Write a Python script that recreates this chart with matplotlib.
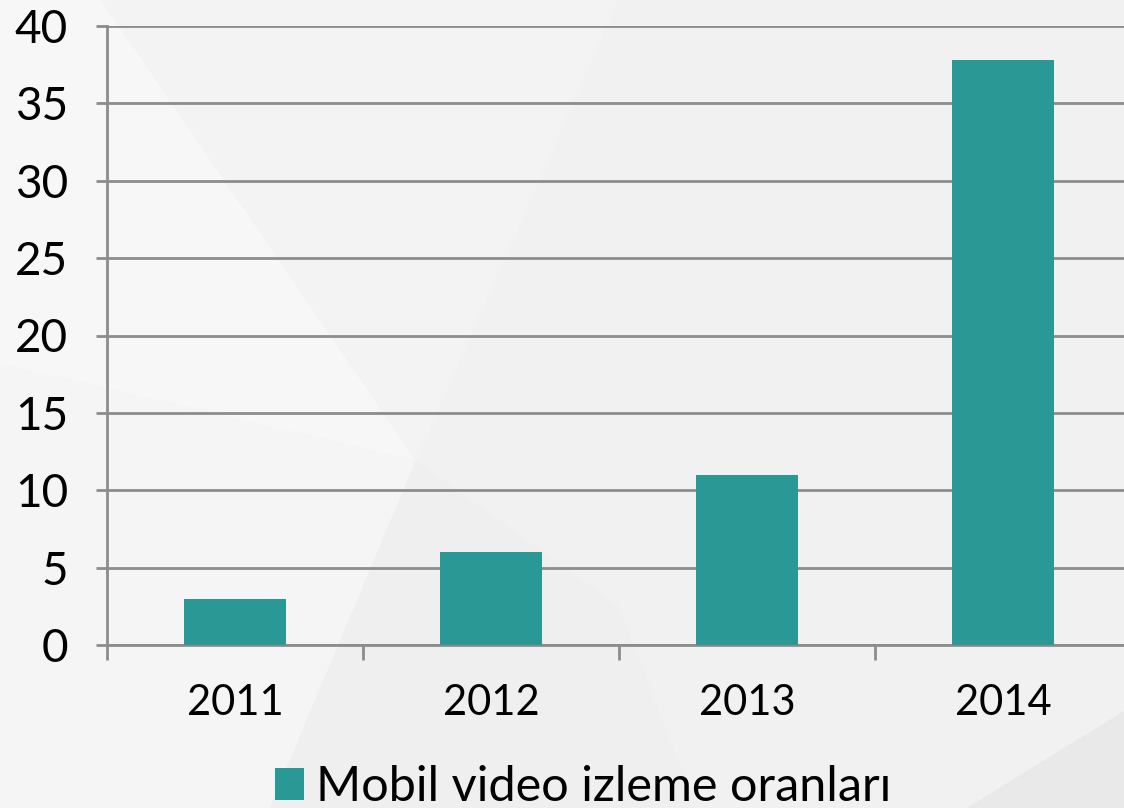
import matplotlib
matplotlib.use("Agg")
import matplotlib.pyplot as plt
from matplotlib.patches import Polygon, Patch

# data
years = ["2011", "2012", "2013", "2014"]
values = [3, 6, 11, 37.8]
series_name = "Mobil video izleme oranları"
y_ticks = [0, 5, 10, 15, 20, 25, 30, 35, 40]

teal = "#2a9894"
grid_gray = "#8c8c8c"

plt.rcParams["font.family"] = ["Lato", "DejaVu Sans"]

fig = plt.figure(figsize=(11.24, 8.08), dpi=100)
fig.patch.set_facecolor("#f1f1f1")

# faint background facets (figure coords)
facets = [
    ([(0.0, 1.0), (0.09, 1.0), (0.37, 0.43), (0.0, 0.55)], "#f7f7f7"),
    ([(0.37, 0.43), (0.24, 0.0), (0.0, 0.0), (0.0, 0.55)], "#f5f5f5"),
    ([(0.37, 0.43), (0.55, 1.0), (0.09, 1.0)], "#f3f3f3"),
    ([(0.37, 0.43), (0.24, 0.0), (0.62, 0.0), (0.55, 0.25)], "#efefef"),
    ([(1.0, 0.12), (0.86, 0.0), (1.0, 0.0)], "#e9e9e9"),
]
for pts, c in facets:
    fig.patches.append(Polygon(pts, closed=True, transform=fig.transFigure,
                               facecolor=c, edgecolor="none", zorder=-5))

ax = fig.add_axes([107 / 1124, 163 / 808, 1024 / 1124, 619 / 808])
ax.set_facecolor("none")

x = range(len(years))
ax.bar(x, values, width=0.4, color=teal, zorder=3)

ax.set_xlim(-0.5, 3.5)
ax.set_ylim(0, 40)
ax.set_yticks(y_ticks)
ax.set_xticks([-0.5, 0.5, 1.5, 2.5, 3.5])
ax.set_xticklabels([])
ax.set_xticks(list(x), minor=True)
ax.set_xticklabels(years, minor=True)

ax.yaxis.grid(True, color=grid_gray, linewidth=2, zorder=0)
ax.set_axisbelow(True)
for s in ["top", "right"]:
    ax.spines[s].set_visible(False)
ax.spines["left"].set_color(grid_gray)
ax.spines["left"].set_linewidth(2)
ax.spines["bottom"].set_color(grid_gray)
ax.spines["bottom"].set_linewidth(2)

ax.tick_params(axis="y", length=8, width=2, color=grid_gray, pad=20,
               labelsize=33, labelcolor="black")
ax.tick_params(axis="x", which="major", length=11, width=2, color=grid_gray)
ax.tick_params(axis="x", which="minor", length=0, pad=28, labelsize=30,
               labelcolor="black")

fig.legend(handles=[Patch(facecolor=teal, label=series_name)],
           loc="center", bbox_to_anchor=(0.519, 0.026), frameon=False,
           fontsize=35, handlelength=0.6, handleheight=0.65,
           handletextpad=0.25, borderpad=0)

fig.savefig("out.png", dpi=100, facecolor=fig.get_facecolor())
